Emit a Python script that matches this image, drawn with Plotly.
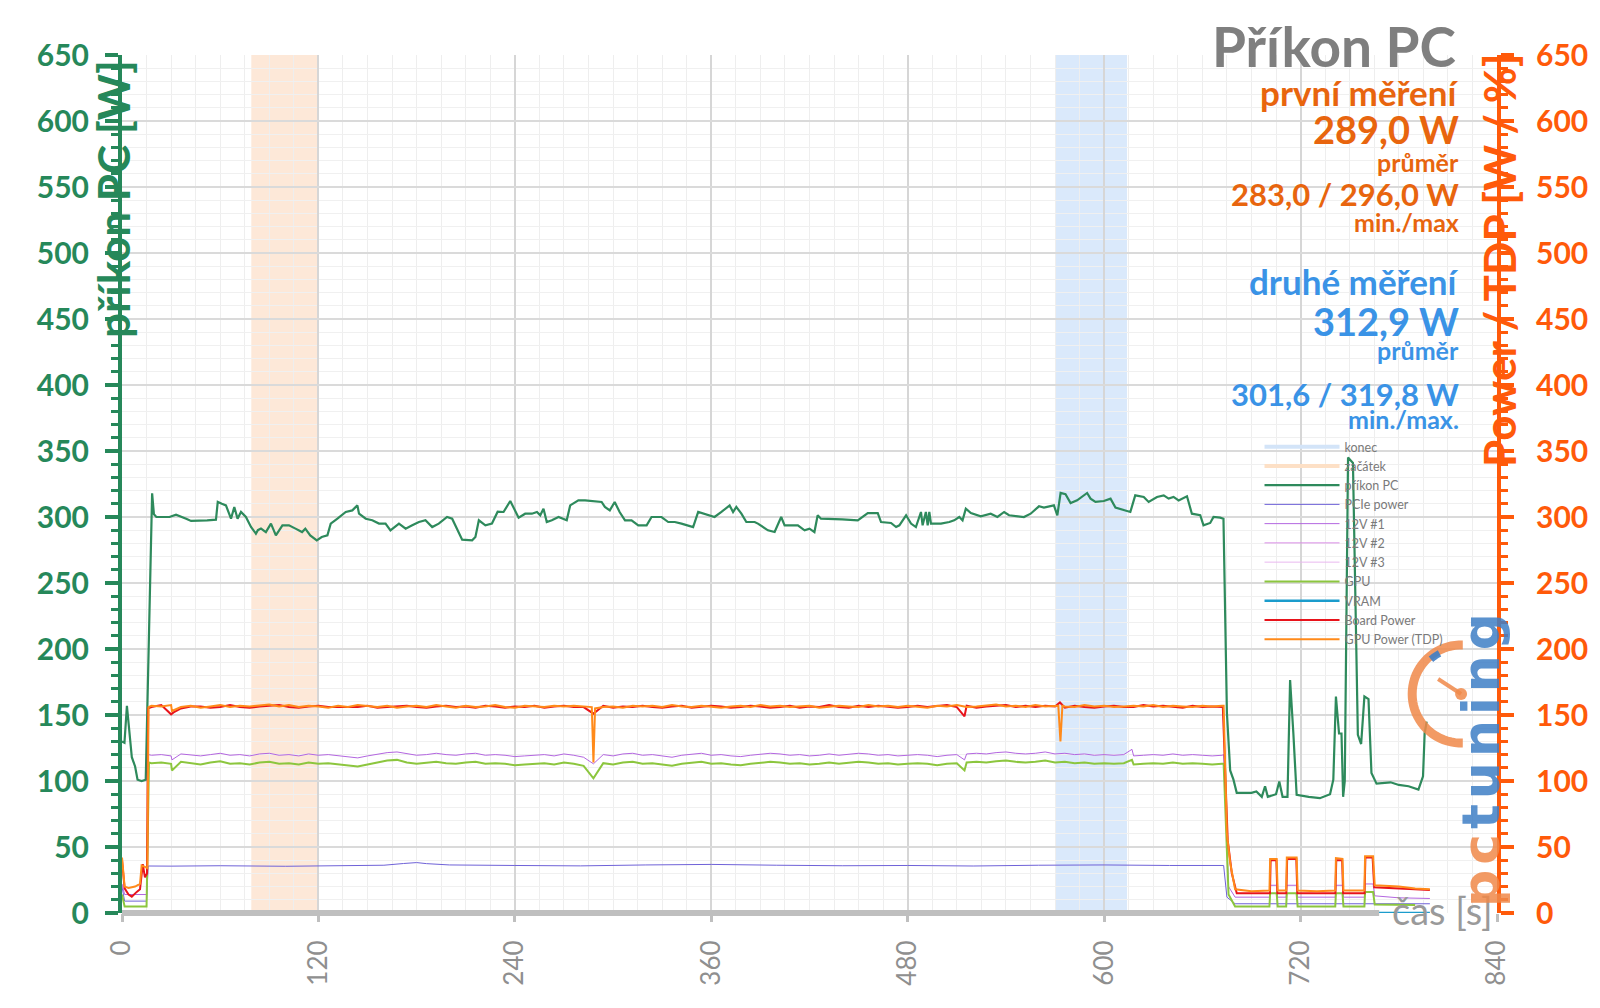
import math
import plotly.graph_objects as go

# ---------------- data ----------------
x_ticks = [0, 120, 240, 360, 480, 600, 720, 840]
y_ticks = [0, 50, 100, 150, 200, 250, 300, 350, 400, 450, 500, 550, 600, 650]

band_zacatek = [79, 120]   # first measurement window (s)
band_konec = [570, 614]    # second measurement window (s)

# příkon PC (wall power)
pc_t = [0, 1.5, 3, 4.5, 6, 8, 9.5, 12, 14.5, 18.4, 19.5, 21, 25, 29, 33, 36, 39.2, 42.2, 47, 52,
        57.4, 58.5, 61, 63.5, 66.6, 68.6, 70.6, 72.7, 75.7, 78.8, 81.8, 83, 84.9, 87.9, 91, 94, 98, 102, 106, 110,
        112, 115, 119, 122, 125.5, 127.5, 131.6, 136.7, 140.7, 143.8, 144.8, 148.9, 152.9, 157, 161, 164, 169.2, 173.3, 177.3, 181.4,
        185.4, 189.5, 193.5, 198.6, 201.7, 207.8, 213.9, 215.9, 218, 222, 226, 229.5, 233.1, 237.2, 242.3, 246.3, 250.4, 253.5, 255.5, 257.5,
        259.5, 262.6, 266.7, 271.7, 273.8, 278.8, 282.9, 293, 295, 298, 301, 304, 307.3, 311.3, 315.4, 320.5, 323.5, 329.6, 333.7, 337.7,
        341.8, 345.9, 348.9, 352, 358, 362, 366.2, 371.2, 373.3, 375.3, 378.4, 381.4, 386.5, 388.5, 394.6, 398.7, 402.7, 404.8, 412.9, 417,
        420, 423, 425, 427, 440, 449.5, 455.6, 461.7, 463.7, 469.8, 472.9, 474.9, 479, 482, 485, 488.1, 489.1, 491.1, 492.2, 493.2,
        494.2, 500.3, 505.4, 508.4, 511.5, 513.5, 515.5, 518.6, 524.6, 530.7, 534.8, 538.9, 541.9, 546, 551, 555.1, 560.2, 563.2, 569.3, 571.4,
        573.4, 576.4, 579.5, 583.5, 586.6, 589.6, 591.7, 594.7, 599.8, 603.9, 606.9, 612, 616, 619, 624.2, 627.2, 632.3, 636.4, 639.4, 642.4,
        645.5, 650.6, 653.6, 658.7, 660.7, 664.8, 666.8, 670.9, 672.9, 675, 677, 679, 681, 690, 693, 696.3, 698.3, 700, 705, 707,
        709, 712, 713.6, 715.6, 717.6, 725, 731.8, 738, 740, 741.6, 743.5, 745, 746, 747, 749, 752, 755, 757, 759, 761.5,
        763.3, 766.4, 775, 780, 786, 792, 794.8, 795.8, 797]
pc_v = [130, 129, 157, 140, 118, 111, 101, 100, 101, 318, 302, 300, 300, 300, 301.8, 300.5, 298.7, 297, 297.5, 297.5,
        298, 311.4, 310, 308.8, 298.7, 307.6, 298.7, 303.8, 300, 292.4, 287.4, 290, 291.2, 288.6, 295, 286.1, 293.7, 293.7, 291.2, 288.6,
        291.2, 286.1, 282.3, 284.8, 286.1, 295, 298.7, 303.8, 305, 308.8, 302.5, 298.7, 297.5, 295, 295, 289.9, 295, 291.2, 293.7, 296.2,
        297.5, 292.4, 295, 300, 298.7, 282.8, 282.3, 284.8, 297.5, 293.7, 295, 304, 303.8, 312.1, 299.5, 302.5, 302.5, 303.8, 301.3, 306.3,
        296.2, 297.5, 300, 297.5, 308.8, 312.6, 312.6, 311.4, 307.6, 305, 311.4, 303.8, 297.5, 297.5, 293.7, 293.7, 300, 300, 296.2, 296.2,
        295, 293.7, 292.4, 303.8, 301.3, 300, 303.8, 308.8, 303.8, 307.6, 302.5, 296.2, 296.2, 295, 289.9, 288.6, 300, 293.7, 293.7, 289.9,
        291.2, 288.6, 301.3, 298.7, 298.2, 297.5, 303, 303, 296.2, 295.5, 292.4, 293.7, 301.3, 295, 292.4, 303.8, 293.7, 303.8, 293.7, 303.8,
        295, 295, 296.2, 297.5, 300, 297.5, 306.3, 303, 300.5, 302.5, 300, 303.8, 301.3, 300.5, 300, 302.5, 308.1, 307.1, 308.8, 301.3,
        318.2, 317.2, 310.6, 312.6, 315.2, 318.2, 313.9, 311.4, 312.1, 313.9, 307.1, 305, 303.8, 316.4, 315.2, 311.4, 315.2, 316.4, 313.9, 315.2,
        312.6, 315.7, 302.5, 301.3, 293.7, 295.5, 300, 299.5, 298.7, 151.5, 108, 101, 91, 91, 92, 88, 96, 88, 90, 99.6,
        88, 88, 176.5, 136, 89.5, 88, 87, 90, 101, 164, 136, 136, 88, 100, 345, 341, 135, 128, 164, 162,
        106, 98, 99, 97, 96, 93.5, 103.5, 136, 145]

# common sampling grid during the load phase (s)
load_t = [18, 24, 30, 36, 42, 48, 54, 60, 66, 72, 78, 84, 90, 96, 102, 108, 114, 120, 126, 132,
          138, 144, 150, 156, 162, 168, 174, 180, 186, 192, 198, 204, 210, 216, 222, 228, 234, 240, 246, 252,
          258, 264, 270, 276, 282, 288, 294, 300, 306, 312, 318, 324, 330, 336, 342, 348, 354, 360, 366, 372,
          378, 384, 390, 396, 402, 408, 414, 420, 426, 432, 438, 444, 450, 456, 462, 468, 474, 480, 486, 492,
          498, 504, 510, 516, 522, 528, 534, 540, 546, 552, 558, 564, 570, 576, 582, 588, 594, 600, 606, 612,
          618, 624, 630, 636, 642, 648, 654, 660, 666, 672]

# GPU Power (TDP)
tdp_start_t = [0, 1.6, 4, 8, 11, 12, 14, 15.5, 16.2]
tdp_start_v = [42, 20, 19, 20, 22, 36, 35, 34, 156]
tdp_load_v = [157.0, 156.5, 157.5, 156.0, 157.0, 155.5, 156.5, 157.5, 156.0, 157.0,
              156.5, 157.0, 158.0, 156.5, 157.5, 156.0, 157.0, 156.5, 155.5, 157.0,
              156.0, 157.5, 156.5, 156.0, 157.0, 155.5, 156.5, 157.0, 156.0, 157.5,
              156.5, 155.5, 157.0, 156.0, 156.5, 157.5, 156.0, 155.5, 157.0, 156.5,
              156.0, 157.0, 156.5, 157.0, 156.5, 157.5, 156.0, 156.5, 155.5, 157.0,
              156.5, 157.0, 156.0, 157.5, 156.5, 156.0, 157.0, 156.5, 155.5, 156.5,
              157.0, 156.0, 157.5, 156.5, 157.0, 156.0, 156.5, 157.0, 155.5, 156.5,
              157.0, 156.5, 156.0, 157.5, 156.5, 157.0, 156.0, 157.0, 156.5, 155.5,
              157.0, 156.5, 157.5, 156.0, 156.5, 157.0, 158.0, 156.5, 157.0, 156.0,
              157.5, 156.5, 157.0, 156.5, 156.0, 157.5, 156.5, 157.0, 156.0, 156.5,
              157.0, 156.5, 157.5, 156.0, 157.0, 156.5, 156.0, 157.0, 156.5, 157.0]
tdp_event_t = [30.5, 287, 288, 289, 572, 573.3, 574.5]
tdp_event_v = [153, 156, 114, 155, 157, 130, 157]
tdp_tail_t = [673, 675, 677, 680, 690, 701, 701.4, 705.4, 706, 711.2, 711.6, 717.6, 718.2, 730, 741.2,
              741.6, 745.6, 746.2, 759, 759.4, 764.3, 765.3, 780, 790, 799]
tdp_tail_v = [157, 60, 38, 18, 16.5, 17, 41, 41, 17, 17, 42, 42, 17, 16.5, 17,
              41.6, 41, 17, 17, 43, 43, 21, 20, 18.5, 18]

# Board Power
board_start_t = [0, 1.6, 4, 6, 9, 11, 12.7, 14, 15.3, 16]
board_start_v = [40, 18.7, 14, 12.4, 16, 18, 37, 27, 30, 155]
board_load_v = [156.0, 157.5, 156.0, 155.0, 156.5, 156.5, 155.5, 156.0, 157.5, 156.0,
                155.5, 156.5, 157.0, 157.5, 156.0, 155.5, 156.5, 157.0, 156.0, 156.0,
                155.5, 156.0, 157.0, 155.5, 156.0, 156.5, 157.0, 156.0, 155.5, 156.5,
                157.0, 156.0, 156.5, 155.5, 157.0, 156.5, 155.5, 156.5, 156.0, 157.0,
                155.5, 156.5, 157.0, 156.0, 156.0, 156.5, 157.0, 155.5, 156.5, 156.0,
                157.0, 156.0, 155.5, 156.5, 157.0, 155.5, 156.0, 157.0, 156.5, 155.5,
                156.0, 157.0, 156.5, 155.5, 156.0, 157.0, 155.5, 156.5, 156.0, 157.5,
                156.0, 155.5, 157.0, 156.0, 157.0, 156.5, 155.5, 156.0, 157.0, 156.0,
                156.5, 157.5, 156.0, 157.0, 155.5, 156.5, 157.0, 157.5, 156.0, 157.0,
                156.0, 157.0, 156.5, 155.5, 157.0, 156.0, 155.5, 156.5, 157.0, 156.0,
                156.0, 157.5, 156.5, 157.0, 156.0, 155.5, 157.0, 156.0, 156.5, 156.0]
board_event_t = [30, 31.5, 288, 514.7, 573]
board_event_v = [150.5, 152, 151, 149, 159.5]
board_tail_t = [672.5, 675.5, 678, 681, 700, 701.3, 701.7, 705.2, 705.8, 711.3, 711.8, 717.4, 718, 741.3,
                741.8, 745.4, 746, 759.1, 759.6, 764, 765, 799]
board_tail_v = [156, 55, 30, 15, 15, 15, 40, 40, 15, 15, 41, 41, 15, 15,
                40, 40, 15, 15, 42, 42, 19.5, 17.5]

# 12V #1
v12a_start_t = [0, 1.6, 15, 16.2]
v12a_start_v = [22, 14, 14, 120]
v12a_load_v = [119.5, 120.0, 119.0, 120.5, 119.5, 119.0, 120.0, 121.0, 119.5, 120.0,
               119.0, 120.5, 121.0, 119.5, 120.0, 119.0, 120.5, 119.5, 120.0, 119.0,
               118.5, 117.5, 119.0, 120.5, 121.5, 122.0, 120.5, 119.5, 120.0, 121.0,
               120.0, 119.5, 120.5, 121.0, 119.5, 120.0, 119.5, 118.5, 119.0, 119.5,
               120.0, 119.0, 120.5, 119.5, 118.0, 119.5, 120.0, 119.0, 120.5, 121.0,
               119.5, 120.0, 119.0, 118.0, 119.5, 120.0, 121.0, 119.5, 120.0, 119.0,
               118.5, 119.5, 120.0, 121.0, 120.5, 119.5, 120.0, 119.0, 119.5, 120.5,
               119.5, 120.0, 121.0, 120.5, 119.5, 120.0, 119.0, 119.5, 120.0, 119.5,
               118.5, 119.5, 120.0, 120.5, 121.0, 120.5, 121.5, 122.0, 121.0, 120.5,
               121.0, 122.0, 120.5, 121.0, 120.0, 120.5, 119.5, 120.0, 119.5, 120.0,
               119.0, 119.5, 120.0, 119.5, 120.5, 119.5, 120.0, 119.5, 119.0, 119.5]
v12a_event_t = [30.5, 288, 514.7, 617]
v12a_event_v = [116, 113, 116, 124]
v12a_tail_t = [673, 676, 680, 701, 701.4, 705.4, 706, 711.2, 711.6, 717.6, 718.2, 741.2, 741.6, 745.6, 746.2,
               759, 759.4, 764.3, 765.3, 780, 799]
v12a_tail_v = [120, 20, 12, 12, 21, 21, 12, 12, 21, 21, 12, 12, 21, 21, 12,
               12, 22, 22, 13, 11.5, 11]

# GPU
gpu_start_t = [0, 1.6, 15, 16.5]
gpu_start_v = [14, 5, 5, 114]
gpu_load_v = [113.5, 114.0, 113.0, 114.5, 113.5, 112.5, 114.0, 115.0, 113.0, 113.5,
              112.5, 114.0, 114.5, 113.0, 113.5, 112.5, 114.0, 113.0, 113.5, 112.5,
              112.0, 111.0, 112.5, 114.0, 115.5, 116.0, 114.0, 113.0, 113.5, 114.5,
              113.5, 113.0, 114.0, 114.5, 113.0, 113.5, 113.0, 112.0, 112.5, 113.0,
              113.5, 112.5, 114.0, 113.0, 111.5, 113.0, 113.5, 112.5, 114.0, 114.5,
              113.0, 113.5, 112.5, 111.5, 113.0, 113.5, 114.5, 113.0, 113.5, 112.5,
              112.0, 113.0, 113.5, 114.5, 114.0, 113.0, 113.5, 112.5, 113.0, 114.0,
              113.0, 113.5, 114.5, 114.0, 113.0, 113.5, 112.5, 113.0, 113.5, 113.0,
              112.0, 113.0, 113.5, 114.0, 114.5, 114.0, 115.0, 115.5, 114.5, 114.0,
              114.5, 115.5, 114.0, 114.5, 113.5, 114.0, 113.0, 113.5, 113.0, 113.5,
              112.5, 113.0, 113.5, 113.0, 114.0, 113.0, 113.5, 113.0, 112.5, 113.0]
gpu_event_t = [30.5, 288, 514.7, 617]
gpu_event_v = [108, 102, 108, 116]
gpu_tail_t = [673, 676, 680, 701, 701.4, 705.4, 706, 711.2, 711.6, 717.6, 718.2, 741.2, 741.6, 745.6, 746.2,
              759, 759.4, 764.3, 765.3, 790]
gpu_tail_v = [113, 14, 5, 5, 15, 15, 5, 5, 15, 15, 5, 5, 15, 15, 5,
              5, 16, 16, 6.5, 6]

# PCIe power
pcie_t = [0, 1.6, 15, 16, 30, 60, 100, 140, 160, 172, 180, 186, 200, 240, 280, 320, 360, 400, 440, 480,
          520, 560, 600, 640, 673, 675, 680, 799]
pcie_v = [20, 9, 9, 35.6, 35.5, 35.8, 35.4, 35.7, 36.2, 37.5, 38.2, 37.4, 36.4, 36.0, 35.7, 36.4, 36.8, 36.2, 35.8, 36.0,
          35.6, 36.2, 36.4, 36.0, 36.0, 12, 7, 7]

# 12V #2, 12V #3, VRAM (stay at zero)
zero_t = [0, 799]
v12b_v = [0, 0]
v12c_v = [0, 0]
vram_v = [0, 0]

# ---------------- helpers ----------------
def series(st_t, st_v, ld_v, ev_t, ev_v, tl_t, tl_v):
    pts = dict(zip(load_t, ld_v))
    pts.update(dict(zip(ev_t, ev_v)))
    mid = sorted(pts.items())
    return (list(st_t) + [p[0] for p in mid] + list(tl_t),
            list(st_v) + [p[1] for p in mid] + list(tl_v))

W, H = 1600, 1008
ML, MR, MT, MB = 122, 100, 55, 95
PW, PH = W - ML - MR, H - MT - MB

def px(x):
    return (x - ML) / PW

def py(y):
    return (H - MB - y) / PH

GREEN = '#26885a'
ORANGE_AX = '#ff5a0a'
ORANGE_TX = '#e8650e'
BLUE_TX = '#3a93e6'
GRAY_TX = '#7f7f7f'
FONT = 'Lato'

fig = go.Figure()

# legend-only entries for the shaded windows
fig.add_trace(go.Scatter(x=[None], y=[None], mode='lines', name='konec',
                         line=dict(color='#d3e4f8', width=4)))
fig.add_trace(go.Scatter(x=[None], y=[None], mode='lines', name='začátek',
                         line=dict(color='#fde0c6', width=4)))

fig.add_trace(go.Scatter(x=pc_t, y=pc_v, mode='lines', name='příkon PC',
                         line=dict(color='#2e8a5c', width=2.2)))
fig.add_trace(go.Scatter(x=pcie_t, y=pcie_v, mode='lines', name='PCIe power',
                         line=dict(color='#6f62d8', width=1), yaxis='y2'))
t, v = series(v12a_start_t, v12a_start_v, v12a_load_v, v12a_event_t, v12a_event_v, v12a_tail_t, v12a_tail_v)
fig.add_trace(go.Scatter(x=t, y=v, mode='lines', name='12V #1',
                         line=dict(color='#b366e0', width=1), yaxis='y2'))
fig.add_trace(go.Scatter(x=zero_t, y=v12b_v, mode='lines', name='12V #2',
                         line=dict(color='#d98ce6', width=1), yaxis='y2'))
fig.add_trace(go.Scatter(x=zero_t, y=v12c_v, mode='lines', name='12V #3',
                         line=dict(color='#e9b8f0', width=1), yaxis='y2'))
t, v = series(gpu_start_t, gpu_start_v, gpu_load_v, gpu_event_t, gpu_event_v, gpu_tail_t, gpu_tail_v)
fig.add_trace(go.Scatter(x=t, y=v, mode='lines', name='GPU',
                         line=dict(color='#8cc63e', width=2), yaxis='y2'))
fig.add_trace(go.Scatter(x=zero_t, y=vram_v, mode='lines', name='VRAM',
                         line=dict(color='#1b9ccc', width=2.5), yaxis='y2'))
t, v = series(board_start_t, board_start_v, board_load_v, board_event_t, board_event_v, board_tail_t, board_tail_v)
fig.add_trace(go.Scatter(x=t, y=v, mode='lines', name='Board Power',
                         line=dict(color='#e8131b', width=2), yaxis='y2'))
t, v = series(tdp_start_t, tdp_start_v, tdp_load_v, tdp_event_t, tdp_event_v, tdp_tail_t, tdp_tail_v)
fig.add_trace(go.Scatter(x=t, y=v, mode='lines', name='GPU Power (TDP)',
                         line=dict(color='#ff8a1a', width=2), yaxis='y2'))

# ---------- decorations (watermark gauge of the logo) ----------
def arc_path(cx, cy, r, a0, a1, n=40):
    pts = []
    for i in range(n + 1):
        a = math.radians(a0 + (a1 - a0) * i / n)
        pts.append((px(cx + r * math.cos(a)), py(cy - r * math.sin(a))))
    return 'M ' + ' L '.join(f'{x:.5f},{y:.5f}' for x, y in pts)

GCX, GCY, GR = 1464, 694, 49

shapes = [
    dict(type='rect', xref='x', yref='paper', x0=band_zacatek[0], x1=band_zacatek[1], y0=0, y1=1,
         fillcolor='#fde8d8', line=dict(width=0), layer='below'),
    dict(type='rect', xref='x', yref='paper', x0=band_konec[0], x1=band_konec[1], y0=0, y1=1,
         fillcolor='#dae9fb', line=dict(width=0), layer='below'),
    # x axis base line (stops before the axis title)
    dict(type='line', xref='x', yref='paper', x0=x_ticks[0], x1=768, y0=0, y1=0,
         line=dict(color='#bfbfbf', width=6), layer='above'),
    # logo gauge
    dict(type='path', xref='paper', yref='paper', path=arc_path(GCX, GCY, GR, 88, 272),
         line=dict(color='#f0894a', width=9), opacity=0.85, layer='above'),
    dict(type='path', xref='paper', yref='paper', path=arc_path(GCX, GCY, GR - 3, 118, 131, 6),
         line=dict(color='#3f7fc6', width=7), opacity=0.9, layer='above'),
    dict(type='line', xref='paper', yref='paper', x0=px(1441), y0=py(679), x1=px(GCX), y1=py(GCY),
         line=dict(color='#f0894a', width=4), opacity=0.85, layer='above'),
    dict(type='circle', xref='paper', yref='paper', x0=px(GCX - 6), x1=px(GCX + 6), y0=py(GCY - 6), y1=py(GCY + 6),
         fillcolor='#f0894a', line=dict(width=0), opacity=0.85, layer='above'),
]

def ann(text, x, y, size, color, xanchor='right', yanchor='middle', angle=0, bold=True, family=FONT, opacity=1):
    return dict(text=text, xref='paper', yref='paper', x=px(x), y=py(y), showarrow=False,
                xanchor=xanchor, yanchor=yanchor, textangle=angle, borderpad=0, opacity=opacity,
                font=dict(family=family, size=size, color=color, weight='bold' if bold else 'normal'))

RX = 1463
annotations = [
    ann('Příkon PC', RX - 3, 46, 55, GRAY_TX),
    ann('první měření', RX, 92, 35, ORANGE_TX),
    ann('289,0 W', RX, 129, 38, ORANGE_TX),
    ann('průměr', RX, 162, 25, ORANGE_TX),
    ann('283,0 / 296,0 W', RX, 194, 31, ORANGE_TX),
    ann('min./max', RX, 222, 25, ORANGE_TX),
    ann('druhé měření', RX, 281, 35, BLUE_TX),
    ann('312,9 W', RX, 321, 38, BLUE_TX),
    ann('průměr', RX, 350, 25, BLUE_TX),
    ann('301,6 / 319,8 W', RX, 394, 31, BLUE_TX),
    ann('min./max.', RX, 419, 25, BLUE_TX),
    ann('příkon PC [W]', 113, 199, 44, GREEN, xanchor='center', angle=-90),
    ann('Power / TDP [W / %]', 1502, 260, 44, ORANGE_AX, xanchor='center', angle=-90),
    ann('čas [s]', 1497, 910, 38, '#9a9a9a', bold=False),
    ann("<span style='color:#f0894a;letter-spacing:5px'>pc</span>"
        "<span style='color:#3f7fc6;letter-spacing:5px'>tuning</span>",
        1484, 758, 52, '#3f7fc6', xanchor='center', angle=-90, family='DejaVu Sans',
        bold=True, opacity=0.85),
]

fig.update_layout(
    width=W, height=H,
    margin=dict(l=ML, r=MR, t=MT, b=MB),
    paper_bgcolor='white', plot_bgcolor='white',
    font=dict(family=FONT),
    showlegend=True,
    legend=dict(x=px(1262), y=py(432), xanchor='left', yanchor='top',
                bgcolor='rgba(0,0,0,0)', font=dict(size=12.5, color='#7a7a7a', family=FONT),
                itemwidth=75, tracegroupgap=0),
    shapes=shapes,
    annotations=annotations,
    xaxis=dict(range=[0, 840], tickvals=x_ticks, ticktext=[str(v) for v in x_ticks],
               tickangle=-90, tickfont=dict(size=26, color='#8f8f8f', family=FONT),
               ticks='outside', ticklen=8, tickwidth=3, tickcolor='#bfbfbf',
               showgrid=True, gridcolor='#d6d6d6', gridwidth=2,
               minor=dict(dtick=15, showgrid=True, gridcolor='#eeeeee', gridwidth=1),
               showline=False, zeroline=False, ticklabelstandoff=8),
    yaxis=dict(range=[0, 650], tickvals=y_ticks, ticktext=[str(v) for v in y_ticks],
               tickfont=dict(size=30, color=GREEN, family=FONT, weight='bold'),
               ticks='outside', ticklen=13, tickwidth=4, tickcolor=GREEN,
               showline=True, linecolor=GREEN, linewidth=4,
               showgrid=True, gridcolor='#dadada', gridwidth=2,
               minor=dict(dtick=10, ticks='outside', ticklen=7, tickwidth=3, tickcolor=GREEN,
                          showgrid=True, gridcolor='#f0f0f0', gridwidth=1),
               zeroline=False, ticklabelstandoff=10),
    yaxis2=dict(range=[0, 650], tickvals=y_ticks, ticktext=[str(v) for v in y_ticks],
                overlaying='y', side='right',
                tickfont=dict(size=30, color=ORANGE_AX, family=FONT, weight='bold'),
                ticks='outside', ticklen=13, tickwidth=4, tickcolor=ORANGE_AX,
                showline=True, linecolor=ORANGE_AX, linewidth=4,
                minor=dict(dtick=10, ticks='outside', ticklen=7, tickwidth=3, tickcolor=ORANGE_AX),
                showgrid=False, zeroline=False, ticklabelstandoff=16),
)

fig.write_html('out.html', config={'displayModeBar': False},
               post_script="document.body.style.margin='0';document.body.style.overflow='hidden';")
